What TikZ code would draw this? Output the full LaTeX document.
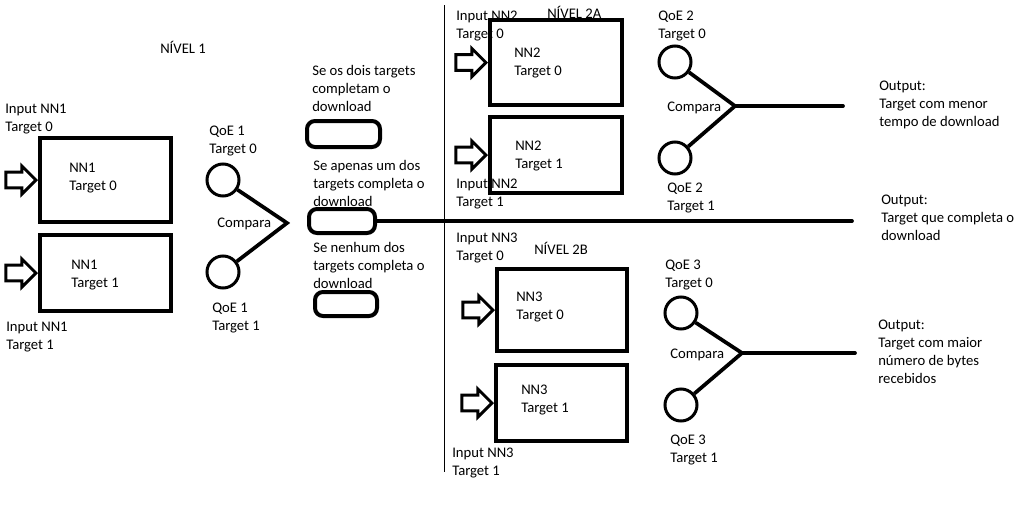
\documentclass[tikz,border=0pt]{standalone}
\usepackage{fontspec}
\setmainfont{Carlito}
\usetikzlibrary{shapes.arrows}
\tikzset{>=latex}

\begin{document}
\begin{tikzpicture}[x=0.75pt, y=-0.75pt,
    txt/.style={anchor=west, inner sep=0pt, align=left, yshift=-1.5pt, font=\fontsize{11}{13.5}\selectfont},
    nnbox/.style={draw, line width=3pt, inner sep=0pt},
    inarrow/.style={single arrow, draw, line width=2.25pt, inner sep=4.8pt, single arrow head extend=4.5pt, minimum height=22.5pt, anchor=east},
    qoe/.style={circle, draw, line width=2.25pt, inner sep=0pt, minimum size=24pt},
    rbox/.style={draw, rounded corners=6pt, line width=3pt, inner sep=0pt},
    link/.style={line width=2.8pt}]
    \useasboundingbox[fill=white] (0,0) rectangle (1033,504);

    % Coordinates
    \coordinate (v1) at (287,223);
    \coordinate (v2) at (735,106);
    \coordinate (v3) at (742,353);
    \coordinate (o1) at (843,106);
    \coordinate (o2) at (852,221);
    \coordinate (o3) at (855,353);

    % Divider
    \draw[line width=0.75pt] (444,5) -- (444,472);

    % Level 1 texts
    \node[txt] (n1) at (160,45) {NÍVEL 1};
    \node[txt] (i10) at (5,117) {Input NN1\\Target 0};
    \node[txt] (i11) at (6,335.5) {Input NN1\\Target 1};
    \node[txt] (t10) at (69,176.5) {NN1\\Target 0};
    \node[txt] (t11) at (71,273) {NN1\\Target 1};
    \node[txt] (l10) at (209,138.5) {QoE 1\\Target 0};
    \node[txt] (l11) at (212,315.5) {QoE 1\\Target 1};
    \node[txt] (c1) at (217,222) {Compara};

    % Middle texts
    \node[txt] (s1) at (312,86) {Se os dois targets\\completam o\\download};
    \node[txt] (s2) at (313,181) {Se apenas um dos\\targets completa o\\download};
    \node[txt] (s3) at (313,263) {Se nenhum dos\\targets completa o\\download};

    % Level 2A texts
    \node[txt] (n2a) at (547,10) {NÍVEL 2A};
    \node[txt] (i20) at (456,24) {Input NN2\\Target 0};
    \node[txt] (i21) at (456,191.5) {Input NN2\\Target 1};
    \node[txt] (t20) at (514,61) {NN2\\Target 0};
    \node[txt] (t21) at (515,154) {NN2\\Target 1};
    \node[txt] (l20) at (658,24) {QoE 2\\Target 0};
    \node[txt] (l21) at (667,195.5) {QoE 2\\Target 1};
    \node[txt] (c2) at (667,106) {Compara};

    % Level 2B texts
    \node[txt] (n2b) at (534,246) {NÍVEL 2B};
    \node[txt] (i30) at (456,246) {Input NN3\\Target 0};
    \node[txt] (i31) at (452,461) {Input NN3\\Target 1};
    \node[txt] (t30) at (516,305) {NN3\\Target 0};
    \node[txt] (t31) at (521,398) {NN3\\Target 1};
    \node[txt] (l30) at (665,272.5) {QoE 3\\Target 0};
    \node[txt] (l31) at (670,447.5) {QoE 3\\Target 1};
    \node[txt] (c3) at (670,353) {Compara};

    % Output texts
    \node[txt] (out1) at (879,103) {Output:\\Target com menor\\tempo de download};
    \node[txt] (out2) at (881,216) {Output:\\Target que completa o\\download};
    \node[txt] (out3) at (878,350) {Output:\\Target com maior\\número de bytes\\recebidos};

    % NN boxes
    \node[nnbox, minimum width=98.25pt, minimum height=63pt] (nn10) at (105.5,180) {};
    \node[nnbox, minimum width=98.25pt, minimum height=57pt] (nn11) at (105.5,273) {};
    \node[nnbox, minimum width=99pt, minimum height=63.75pt] (nn20) at (556,62.5) {};
    \node[nnbox, minimum width=99pt, minimum height=57pt] (nn21) at (556,155) {};
    \node[nnbox, minimum width=97.5pt, minimum height=61.5pt] (nn30) at (562,310) {};
    \node[nnbox, minimum width=98.25pt, minimum height=57pt] (nn31) at (561.5,403) {};

    % Input arrows
    \node[inarrow] (a10) at (nn10.west) {};
    \node[inarrow] (a11) at (nn11.west) {};
    \node[inarrow] (a20) at (nn20.west) {};
    \node[inarrow] (a21) at (nn21.west) {};
    \node[inarrow] (a30) at (nn30.west) {};
    \node[inarrow] (a31) at (nn31.west) {};

    % QoE circles
    \node[qoe] (q10) at (223,180) {};
    \node[qoe] (q11) at (223,272) {};
    \node[qoe] (q20) at (675,62) {};
    \node[qoe] (q21) at (675,158) {};
    \node[qoe] (q30) at (681,313) {};
    \node[qoe] (q31) at (681,405) {};

    % Decision boxes
    \node[rbox, minimum width=54.75pt, minimum height=19.5pt] (r1) at (343.5,134) {};
    \node[rbox, minimum width=49.5pt, minimum height=18pt] (r2) at (342,221) {};
    \node[rbox, minimum width=46.5pt, minimum height=18pt] (r3) at (346,304) {};

    % Lines
    \draw[link] (q10) -- (v1) -- (q11);
    \draw[link] (q20) -- (v2) -- (q21);
    \draw[link] (q30) -- (v3) -- (q31);
    \draw[link, line cap=round] (v2) -- (o1);
    \draw[link, line cap=round] (r2) -- (o2);
    \draw[link, line cap=round] (v3) -- (o3);
\end{tikzpicture}
\end{document}
